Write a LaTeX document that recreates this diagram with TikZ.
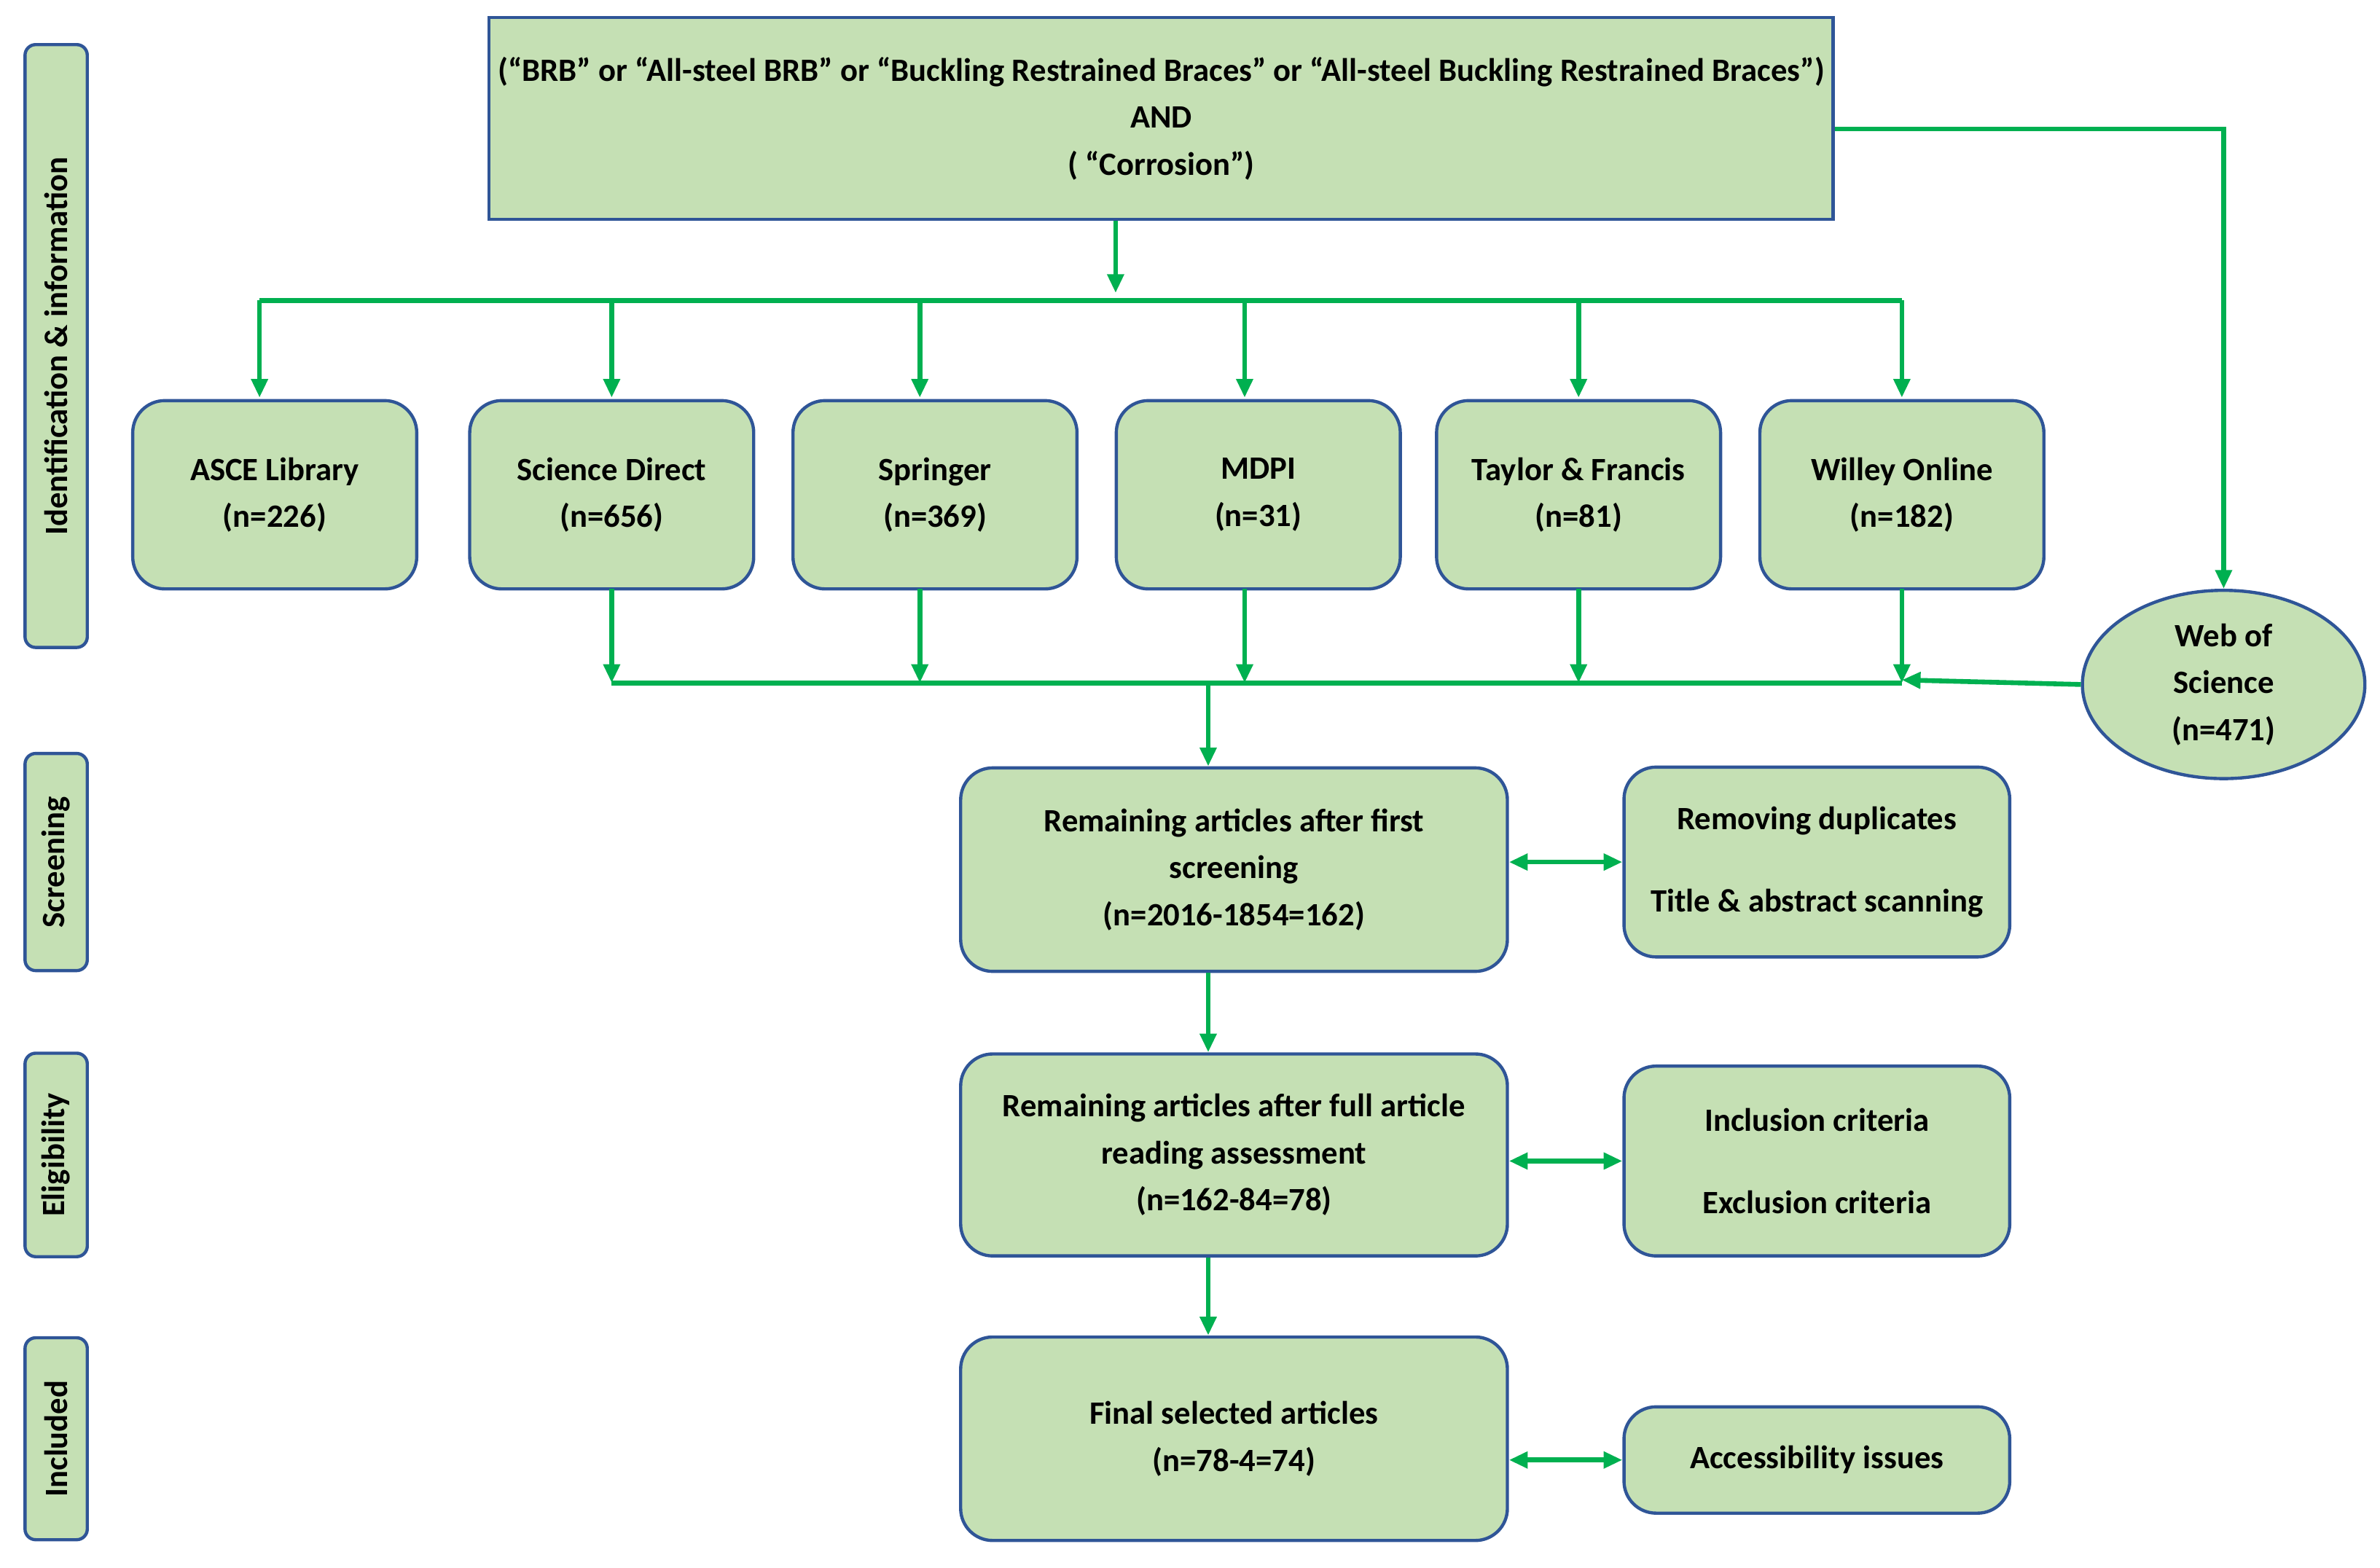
\documentclass[tikz,border=0pt]{standalone}
\usepackage{fontspec}
\setmainfont{Carlito}
\usetikzlibrary{arrows.meta,shapes.geometric}
\definecolor{boxfill}{HTML}{C5E0B4}
\definecolor{boxline}{HTML}{2F5597}
\definecolor{flow}{HTML}{00B050}
\begin{document}
\begin{tikzpicture}[x=0.01cm,y=-0.01cm,
  box/.style={draw=boxline, fill=boxfill, line width=0.6pt, rounded corners=6pt, align=center,
    font=\fontsize{6.1}{8.8}\selectfont\bfseries, inner sep=0pt},
  side/.style={box, rounded corners=2pt, minimum width=0.41cm},
  arr/.style={draw=flow, line width=0.9pt, -{Triangle[length=3.5pt,width=3pt]}},
  ln/.style={draw=flow, line width=0.9pt}]
\useasboundingbox (0,0) rectangle (1568,1033);
% phases
\node[side, minimum height=3.97cm] (p1) at (37,228) {\rotatebox{90}{Identification \& information}};
\node[side, minimum height=1.43cm] (p2) at (37,568) {\rotatebox{90}{Screening}};
\node[side, minimum height=1.34cm] (p3) at (37,761) {\rotatebox{90}{Eligibility}};
\node[side, minimum height=1.33cm] (p4) at (37,948) {\rotatebox{90}{Included}};
% query
\node[box, rounded corners=0pt, minimum width=8.85cm, minimum height=1.33cm] (query) at (765,78)
  {(“BRB” or “All-steel BRB” or “Buckling Restrained Braces” or “All-steel Buckling Restrained Braces”)\\AND\\( “Corrosion”)};
% databases
\foreach \n/\x/\t in {asce/181/{ASCE Library\\(n=226)}, sd/403/{Science Direct\\(n=656)},
  spr/616/{Springer\\(n=369)}, mdpi/829/{MDPI\\(n=31)}, tf/1040/{Taylor \& Francis\\(n=81)},
  wil/1253/{Willey Online\\(n=182)}}{
  \node[box, minimum width=1.87cm, minimum height=1.24cm] (\n) at (\x,326) {\t};
}
\node[draw=boxline, fill=boxfill, line width=0.6pt, ellipse, minimum width=1.86cm, minimum height=1.24cm,
  align=center, font=\fontsize{6.1}{8.8}\selectfont\bfseries, inner sep=0pt] (wos) at (1465,451) {Web of\\Science\\(n=471)};
% stages
\node[box, minimum width=3.6cm, minimum height=1.34cm] (scr) at (813,573) {Remaining articles after first\\screening\\(n=2016-1854=162)};
\node[box, minimum width=2.54cm, minimum height=1.25cm] (scrr) at (1197,568) {Removing duplicates\\[2.2ex]Title \& abstract scanning};
\node[box, minimum width=3.6cm, minimum height=1.33cm] (eli) at (813,761) {Remaining articles after full article\\reading assessment\\(n=162-84=78)};
\node[box, minimum width=2.54cm, minimum height=1.25cm] (elir) at (1197,765) {Inclusion criteria\\[2.2ex]Exclusion criteria};
\node[box, minimum width=3.6cm, minimum height=1.34cm] (inc) at (813,948) {Final selected articles\\(n=78-4=74)};
\node[box, minimum width=2.54cm, minimum height=0.7cm] (incr) at (1197,962) {Accessibility issues};
% connectors
\coordinate (top) at (735,193);
\coordinate (bot) at (796,450);
\draw[arr] (query.south -| top) -- (top);
\draw[ln] (171,198) -- (1253,198);
\foreach \n/\x in {asce/171, sd/403, spr/606, mdpi/820, tf/1040, wil/1253}
  \draw[arr] (\x,198) -- (\x,262);
\foreach \x in {403, 606, 820, 1040, 1253}
  \draw[arr] (\x,388) -- (\x,450);
\draw[ln] (403,450) -- (1253,450);
\draw[arr] (wos.west) -- (1253,448);
\draw[arr] (query.east |- 0,85) -- (1465,85) -- (wos.north);
\draw[arr] (bot) -- (scr.north -| bot);
\draw[arr] (scr.south -| bot) -- (eli.north -| bot);
\draw[arr] (eli.south -| bot) -- (inc.north -| bot);
\draw[arr, {Triangle[length=3.5pt,width=3pt]}-{Triangle[length=3.5pt,width=3pt]}] (scr.east |- scrr) -- (scrr.west);
\draw[arr, {Triangle[length=3.5pt,width=3pt]}-{Triangle[length=3.5pt,width=3pt]}] (eli.east |- elir) -- (elir.west);
\draw[arr, {Triangle[length=3.5pt,width=3pt]}-{Triangle[length=3.5pt,width=3pt]}] (inc.east |- incr) -- (incr.west);
\end{tikzpicture}
\end{document}
